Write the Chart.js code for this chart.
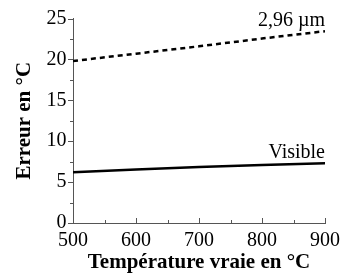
<!DOCTYPE html>
<html lang="fr">
<head>
  <meta charset="UTF-8" />
  <title>Erreur en fonction de la température</title>
  <script src="https://cdn.jsdelivr.net/npm/chart.js"></script>
  <style>
    html, body { margin: 0; padding: 0; background: #fff; }
    #wrap { width: 346px; height: 279px; }
  </style>
</head>
<body>
  <div id="wrap"><canvas id="chart" width="346" height="279"></canvas></div>

  <script>
    // Données
    const temperatures = [500, 600, 700, 800, 900];
    const erreur296 = [19.8, 20.7, 21.6, 22.55, 23.45];
    const erreurVisible = [6.2, 6.55, 6.85, 7.1, 7.3];
    const seriesNames = ["2,96 µm", "Visible"];
    const xTicks = [500, 600, 700, 800, 900];
    const yTicks = [0, 5, 10, 15, 20, 25];

    const serif = "'Liberation Serif', 'DejaVu Serif', serif";

    // petits traits de graduation (majeurs + mineurs)
    const tickMarks = {
      id: "tickMarks",
      afterDraw(chart) {
        const ctx = chart.ctx;
        const x = chart.scales.x, y = chart.scales.y;
        const area = chart.chartArea;
        ctx.save();
        ctx.strokeStyle = "#555";
        ctx.lineWidth = 1;
        ctx.beginPath();
        yTicks.forEach((v, i) => {
          const py = Math.round(y.getPixelForValue(v)) + 0.5;
          ctx.moveTo(area.left - 5, py); ctx.lineTo(area.left, py);
          if (i < yTicks.length - 1) {
            const pm = Math.round(y.getPixelForValue(v + 2.5)) + 0.5;
            ctx.moveTo(area.left - 3, pm); ctx.lineTo(area.left, pm);
          }
        });
        xTicks.forEach((v, i) => {
          const px = Math.round(x.getPixelForValue(v)) + 0.5;
          ctx.moveTo(px, area.bottom); ctx.lineTo(px, area.bottom - 5);
          if (i < xTicks.length - 1) {
            const pm = Math.round(x.getPixelForValue(v + 50)) + 0.5;
            ctx.moveTo(pm, area.bottom); ctx.lineTo(pm, area.bottom - 3);
          }
        });
        ctx.stroke();

        // étiquettes des courbes
        ctx.fillStyle = "#000";
        ctx.font = "20px " + serif;
        ctx.textAlign = "right";
        ctx.textBaseline = "alphabetic";
        ctx.fillText(seriesNames[0], x.getPixelForValue(900), y.getPixelForValue(24.05));
        ctx.fillText(seriesNames[1], x.getPixelForValue(900), y.getPixelForValue(7.9));
        ctx.restore();
      }
    };

    new Chart(document.getElementById("chart").getContext("2d"), {
      type: "line",
      data: {
        labels: temperatures,
        datasets: [
          {
            label: seriesNames[0],
            data: temperatures.map((t, i) => ({ x: t, y: erreur296[i] })),
            borderColor: "#000",
            borderWidth: 2.5,
            borderDash: [5, 4],
            pointRadius: 0,
            tension: 0
          },
          {
            label: seriesNames[1],
            data: temperatures.map((t, i) => ({ x: t, y: erreurVisible[i] })),
            borderColor: "#000",
            borderWidth: 2.5,
            pointRadius: 0,
            tension: 0
          }
        ]
      },
      options: {
        responsive: false,
        animation: false,
        layout: { padding: { top: 15, right: 20, bottom: 0, left: 0 } },
        plugins: { legend: { display: false }, tooltip: { enabled: false } },
        scales: {
          x: {
            type: "linear",
            min: 500,
            max: 900,
            afterBuildTicks: s => { s.ticks = xTicks.map(v => ({ value: v })); },
            grid: { display: false, drawTicks: false },
            border: { display: true, color: "#555", width: 1 },
            ticks: { color: "#000", padding: 6, maxRotation: 0, font: { family: serif, size: 20 } },
            title: {
              display: true,
              text: "Température vraie en °C",
              color: "#000",
              font: { family: serif, size: 21, weight: "bold" },
              padding: { top: 0, bottom: 4 }
            },
            afterFit: s => { s.height = 56; }
          },
          y: {
            min: 0,
            max: 25,
            afterBuildTicks: s => { s.ticks = yTicks.map(v => ({ value: v })); },
            grid: { display: false, drawTicks: false },
            border: { display: true, color: "#555", width: 1 },
            ticks: { color: "#000", padding: 6.5, font: { family: serif, size: 20 } },
            title: {
              display: true,
              text: "Erreur en °C",
              color: "#000",
              font: { family: serif, size: 21, weight: "bold" },
              padding: { top: 12, bottom: 0 }
            },
            afterFit: s => { s.width = 73; }
          }
        }
      },
      plugins: [tickMarks]
    });
  </script>
</body>
</html>
